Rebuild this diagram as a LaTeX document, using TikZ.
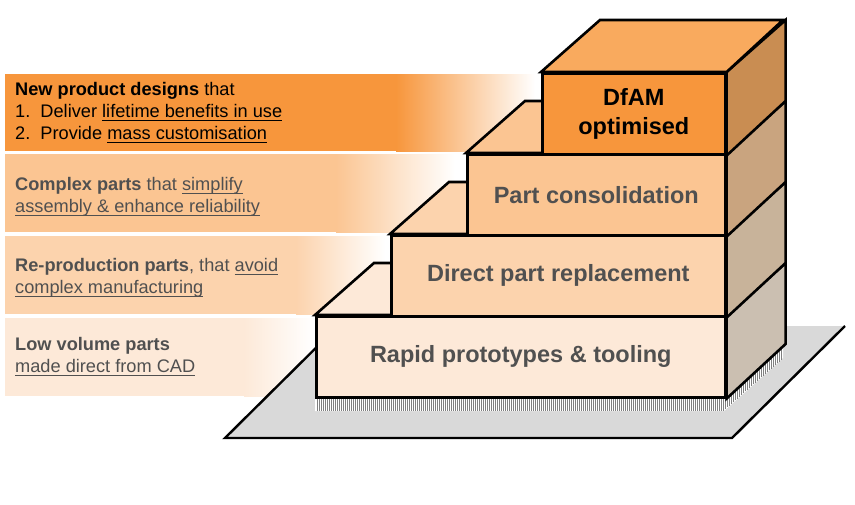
\documentclass[tikz,border=0pt]{standalone}
\usepackage{fontspec}
\setmainfont{Liberation Sans}
\usetikzlibrary{positioning,calc}
\definecolor{orgA}{HTML}{F7963C}
\definecolor{orgB}{HTML}{FBC592}
\definecolor{orgC}{HTML}{FCD3AD}
\definecolor{orgD}{HTML}{FDE9D8}
\definecolor{topA}{HTML}{F9AA5E}
\definecolor{sideA}{HTML}{C98D52}
\definecolor{sideB}{HTML}{C9A47F}
\definecolor{sideC}{HTML}{C8B39A}
\definecolor{sideD}{HTML}{CBBFB1}
\definecolor{plate}{HTML}{D9D9D9}
\definecolor{txt}{HTML}{505050}
\def\ulw#1{\setbox0=\hbox{#1}\rlap{\vrule height-2.2pt depth 3.5pt width\wd0}\box0}
\tikzset{face/.style={draw=black,line width=2.6pt,line join=miter}}
\tikzset{front/.style={face,rectangle,inner sep=0pt,anchor=north west,align=center,text=txt,font=\bfseries\fontsize{23.5}{29}\selectfont}}
\tikzset{bartext/.style={anchor=west,align=left,inner sep=0pt,text=txt,font=\fontsize{18.2}{22}\selectfont}}

\begin{document}
\begin{tikzpicture}[x=1pt,y=-1pt]
	\useasboundingbox (0,0) rectangle (855,504);
	% bars on the left
	\fill[orgA] (5,74) rectangle (397,151);
	\shade[left color=orgA,right color=white] (396,74) rectangle (535,151);
	\fill[orgB] (5,154) rectangle (337,232);
	\shade[left color=orgB,right color=white] (336,154) rectangle (455,232);
	\fill[orgC] (5,236) rectangle (297,314);
	\shade[left color=orgC,right color=white] (296,236) rectangle (385,314);
	\fill[orgD] (5,318) rectangle (245,396);
	\shade[left color=orgD,right color=white] (244,318) rectangle (314,396);

	\node[bartext,text=black] (newdes) at (15,113) {\textbf{New product designs} that\\1.\ \ Deliver \ulw{lifetime benefits in use}\\2.\ \ Provide \ulw{mass customisation}};
	\node[bartext] (complex) at (15,197) {\textbf{Complex parts} that \ulw{simplify}\\\ulw{assembly \& enhance reliability}};
	\node[bartext] (reprod) at (15,278) {\textbf{Re-production parts}, that \ulw{avoid}\\\ulw{complex manufacturing}};
	\node[bartext] (lowvol) at (15,357) {\textbf{Low volume parts}\\\ulw{made direct from CAD}};

	% base plate and shadow
	\coordinate (p1) at (225,438);
	\coordinate (p2) at (732,438);
	\coordinate (p3) at (845,326);
	\coordinate (p4) at (338,326);
	\fill[plate] (p1) -- (p2) -- (p3) -- (p4) -- cycle;
	\draw[line width=2.4pt] (p3) -- (p2) -- (p1) -- (p4);
	\fill[white] (315,396) -- (724,396) -- (783,344) -- (783,358) -- (724,411) -- (315,411) -- cycle;
	\foreach \x in {317,319,...,781}{
		\pgfmathsetmacro\yt{\x<724 ? 397 : 396-(\x-724)/59*52}
		\draw[gray,line width=0.9pt] (\x,\yt) -- (\x,\yt+14);
	}

	% the steps, bottom one first
	\node[front,fill=orgD,minimum width=409,minimum height=81] (rapid) at (315,315) {Rapid prototypes \& tooling};
	\draw[face,fill=sideD] (rapid.north east) -- ++(59,-52) -- ++(0,81) -- (rapid.south east) -- cycle;
	\draw[face,fill=orgD] (rapid.north west) -- ++(59,-52) -- ++(409,0) -- (rapid.north east) -- cycle;

	\node[front,fill=orgC,minimum width=334,minimum height=81] (direct) at (390,234) {Direct part replacement};
	\draw[face,fill=sideC] (direct.north east) -- ++(59,-52) -- ++(0,81) -- (direct.south east) -- cycle;
	\draw[face,fill=orgC] (direct.north west) -- ++(59,-52) -- ++(334,0) -- (direct.north east) -- cycle;

	\node[front,fill=orgB,minimum width=258,minimum height=81] (consol) at (466,153) {Part consolidation};
	\draw[face,fill=sideB] (consol.north east) -- ++(59,-52) -- ++(0,81) -- (consol.south east) -- cycle;
	\draw[face,fill=orgB] (consol.north west) -- ++(59,-52) -- ++(258,0) -- (consol.north east) -- cycle;

	\node[front,fill=orgA,text=black,minimum width=183,minimum height=81] (dfam) at (541,72) {DfAM\\optimised};
	\draw[face,fill=sideA] (dfam.north east) -- ++(59,-52) -- ++(0,81) -- (dfam.south east) -- cycle;
	\draw[face,fill=topA] (dfam.north west) -- ++(59,-52) -- ++(183,0) -- (dfam.north east) -- cycle;
\end{tikzpicture}
\end{document}
